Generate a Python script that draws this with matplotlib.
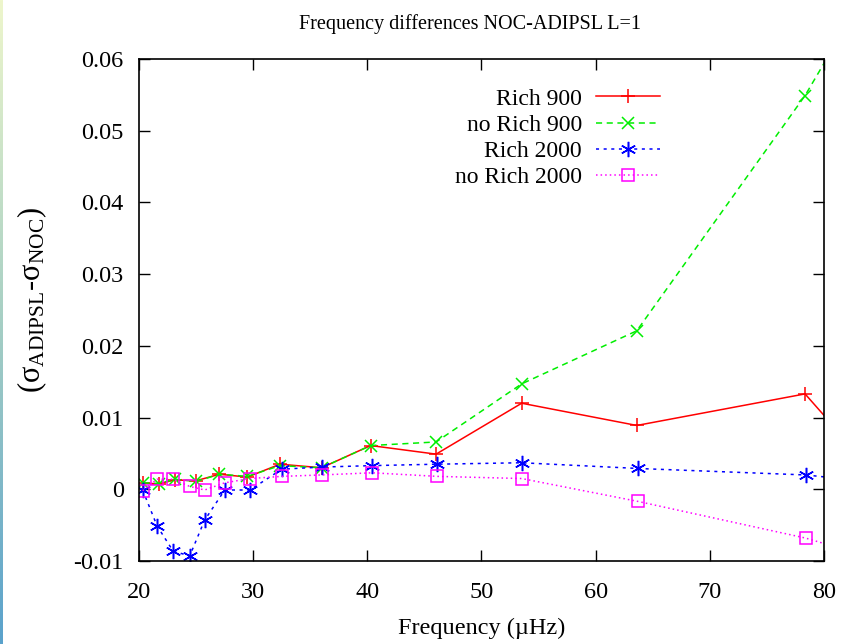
import numpy as np
import matplotlib
matplotlib.use("Agg")
import matplotlib.pyplot as plt
from matplotlib.colors import LinearSegmentedColormap

plt.rcParams["font.family"] = ["Liberation Serif", "DejaVu Serif"]
plt.rcParams["mathtext.fontset"] = "custom"
plt.rcParams["mathtext.rm"] = "Liberation Serif"
plt.rcParams["mathtext.it"] = "Liberation Serif:italic"

# frequencies (muHz) of the modes, two grids
freq_900 = [20.39, 21.71, 23.15, 25.02, 27.05, 29.49, 32.35, 35.99, 40.29, 46.02, 53.52, 63.6, 78.34, 82.0]
freq_2000 = [20.32, 21.58, 22.98, 24.44, 25.75, 27.51, 29.72, 32.5, 36.0, 40.43, 46.13, 53.52, 63.73, 78.38, 82.0]

rich_900 = [0.00084, 0.00077, 0.0013, 0.0012, 0.0021, 0.0017, 0.0035, 0.0030, 0.0061, 0.0049, 0.0120, 0.0089, 0.0133, 0.0067]
no_rich_900 = [0.0009, 0.0008, 0.0014, 0.0011, 0.0021, 0.0018, 0.0033, 0.0030, 0.0061, 0.0066, 0.0147, 0.0221, 0.0549, 0.0648]
rich_2000 = [-0.0001, -0.0051, -0.0086, -0.0093, -0.0043, -0.0001, -0.0001, 0.0028, 0.0031, 0.0033, 0.0035, 0.0037, 0.0029, 0.0020, 0.0014]
no_rich_2000 = [-0.0002, 0.0014, 0.0014, 0.0004, -0.0001, 0.0009, 0.0015, 0.0018, 0.0020, 0.0023, 0.0018, 0.0015, -0.0017, -0.0068, -0.0085]

xticks = [20, 30, 40, 50, 60, 70, 80]
yticks = [-0.01, 0, 0.01, 0.02, 0.03, 0.04, 0.05, 0.06]
ytick_labels = ["-0.01", "0", "0.01", "0.02", "0.03", "0.04", "0.05", "0.06"]

fig = plt.figure(figsize=(8.41, 6.44), dpi=100)

# thin gradient stripe at the left edge
strip = fig.add_axes([0, 0, 3 / 841, 1])
cmap = LinearSegmentedColormap.from_list("edge", ["#eef6cc", "#a6cfc4", "#5aa2cc"])
strip.imshow(np.linspace(0, 1, 256).reshape(-1, 1), aspect="auto", cmap=cmap)
strip.axis("off")

ax = fig.add_axes([139 / 841, 1 - 561 / 644, 685 / 841, 502 / 644])

ax.plot(freq_900, rich_900, color="#ff0000", ls="-", lw=1.1, marker="+", ms=10, mew=1.1, label="Rich 900")
ax.plot(freq_900, no_rich_900, color="#00ee00", ls=(0, (4, 3)), lw=1.1, marker="x", ms=8, mew=1.1, label="no Rich 900")
ax.plot(freq_2000, rich_2000, color="#0000ff", ls=(0, (2, 3)), lw=1.1, marker=(6, 2, 0), ms=11, mew=1.1, label="Rich 2000")
ax.plot(freq_2000, no_rich_2000, color="#ff00ff", ls=(0, (1, 2)), lw=1.1, marker="s", ms=8, mfc="none", mew=1.1, label="no Rich 2000")

ax.set_xlim(20, 80)
ax.set_ylim(-0.01, 0.06)
ax.set_xticks(xticks)
ax.set_yticks(yticks)
ax.set_yticklabels(ytick_labels)
ax.tick_params(direction="in", length=8, width=1, top=True, right=True, labelsize=17.5)
ax.tick_params(axis="y", pad=11)
ax.tick_params(axis="x", pad=15)
for s in ax.spines.values():
    s.set_linewidth(1.2)

ax.set_xlabel("Frequency (µHz)", fontsize=17.5, labelpad=11)
ax.set_ylabel(r"(σ$_{\mathrm{ADIPSL}}$-σ$_{\mathrm{NOC}}$)", fontsize=22)
ax.yaxis.set_label_coords(-0.131, 1 - (300 - 59) / 502)
fig.text(0.5585, 1 - 24 / 644, "Frequency differences NOC-ADIPSL L=1", ha="center", va="center", fontsize=14.5)

ax.legend(loc="upper right", bbox_to_anchor=((660 - 139) / 685, 1 - 29 / 502), markerfirst=False, frameon=False,
          fontsize=17, handlelength=2.7, handletextpad=0.6, labelspacing=0.2, borderaxespad=0, borderpad=0)

fig.savefig("out.png", dpi=100)
